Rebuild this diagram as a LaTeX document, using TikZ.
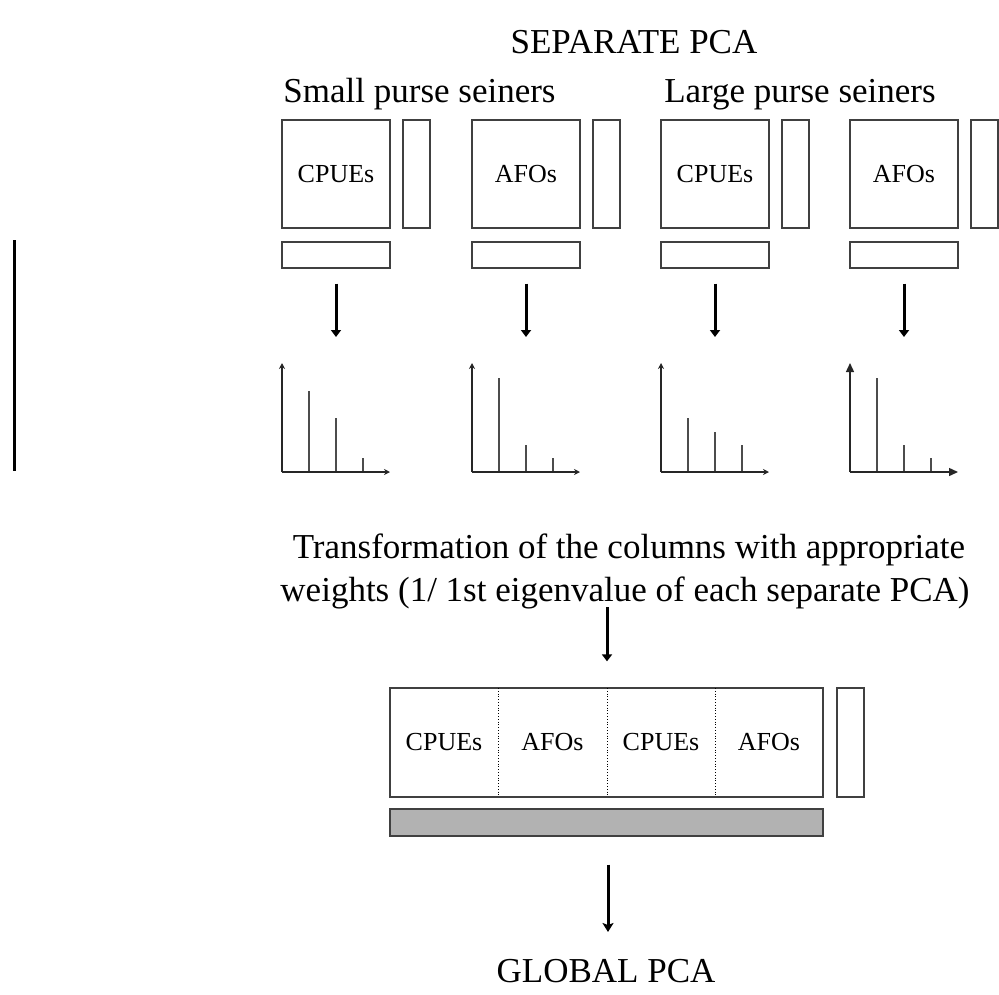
\documentclass[tikz,border=0pt]{standalone}
\usepackage{fontspec}
\setmainfont{Liberation Serif}
\usetikzlibrary{arrows.meta}
\begin{document}
\begin{tikzpicture}[x=1pt,y=-1pt,
  frame/.style={draw=black!75, line width=1.3pt, inner sep=0pt},
  sqbox/.style={frame, minimum width=108pt, minimum height=108pt, font=\fontsize{26}{30}\selectfont},
  tallbox/.style={frame, minimum width=27pt, minimum height=108pt},
  flatbox/.style={frame, minimum width=108pt, minimum height=26pt},
  lbl/.style={inner sep=0pt, anchor=base, font=\fontsize{35}{43}\selectfont},
  cell/.style={inner sep=0pt, font=\fontsize{26}{30}\selectfont},
  flow/.style={line width=3pt, -{Triangle[width=10pt,length=7pt]}},
  axis/.style={line width=1.4pt, black!85, -{Stealth[width=6pt,length=6pt]}},
  bigaxis/.style={line width=1.4pt, black!85, -{Triangle[width=8pt,length=9pt]}},
  bar/.style={line width=1.4pt, black!70}]
\useasboundingbox (0,0) rectangle (999,994);

% side marker
\draw[line width=3pt] (14.5,240) -- (14.5,471);

% headings
\node[lbl] (sep) at (634,53) {SEPARATE PCA};
\node[lbl] (small) at (419.5,102) {Small purse seiners};
\node[lbl] (large) at (800,102) {Large purse seiners};

% the four separate tables, arrows and eigenvalue plots
\foreach \i/\x/\name/\ha/\hb/\hc in {1/282/CPUEs/391/418/458, 2/472/AFOs/378/445/458,
                                      3/661/CPUEs/418/432/445, 4/850/AFOs/378/445/458}{
  \node[sqbox] (sq\i) at (\x+54,174) {\name};
  \node[tallbox] (tall\i) at (\x+134.5,174) {};
  \node[flatbox] (flat\i) at (\x+54,255) {};
  \coordinate (tip\i) at (\x+54,337);
  \draw[flow, shorten <=15pt] (flat\i.south) -- (tip\i);
  \coordinate (o\i) at (\x,472);
  \draw[bar] (\x+27,472) -- (\x+27,\ha);
  \draw[bar] (\x+54,472) -- (\x+54,\hb);
  \draw[bar] (\x+81,472) -- (\x+81,\hc);
}
\foreach \i in {1,2,3}{
  \draw[axis] (o\i) -- ++(0,-109);
  \draw[axis] (o\i) -- ++(108,0);
}
\draw[bigaxis] (o4) -- ++(0,-109);
\draw[bigaxis] (o4) -- ++(108,0);

% transformation text
\node[lbl] (trans) at (629,558) {Transformation of the columns with appropriate};
\node[lbl] (weights) at (625,601) {weights (1/ 1st eigenvalue of each separate PCA)};

% combined table
\node[frame, minimum width=433pt, minimum height=109pt] (big) at (606.5,742.5) {};
\node[tallbox, minimum height=109pt] (bigtall) at (850.5,742.5) {};
\node[frame, fill=black!30, minimum width=433pt, minimum height=27pt] (gray) at (606.5,822.5) {};
\foreach \xd in {498,607,715}{
  \draw[line width=0.8pt, dotted] (\xd,688) -- (\xd,797);
}
\node[cell] (c1) at (444,742) {CPUEs};
\node[cell] (c2) at (552.5,742) {AFOs};
\node[cell] (c3) at (661,742) {CPUEs};
\node[cell] (c4) at (769,742) {AFOs};

\coordinate (a2s) at (607,607);
\draw[flow] (a2s) -- ([yshift=26pt]big.north -| a2s);

\node[lbl] (global) at (606,982) {GLOBAL PCA};
\coordinate (a3e) at (608,932);
\draw[line width=3pt, -{Stealth[width=11pt,length=9pt,inset=2pt]}, shorten <=28pt] (gray.south -| a3e) -- (a3e);
\end{tikzpicture}
\end{document}
